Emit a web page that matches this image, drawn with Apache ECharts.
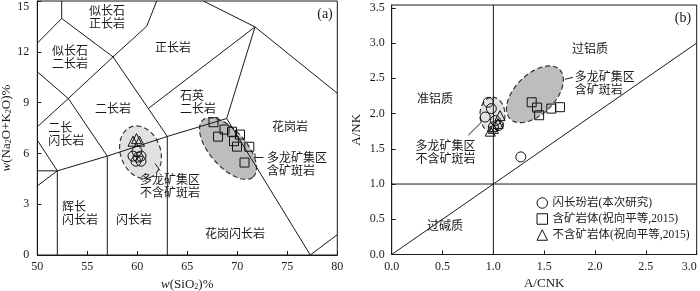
<!DOCTYPE html>
<html><head><meta charset="utf-8">
<script src="https://cdn.jsdelivr.net/npm/echarts@6/dist/echarts.min.js"></script>
<style>html,body{margin:0;padding:0;background:#fff}#c{width:700px;height:291px}</style>
</head><body><div id="c"></div>
<script>
const FONT = '"Liberation Serif","Noto Sans CJK SC",serif';
const TXT = '#1a1a1a';

// ---- panel (a) TAS data ----
const circlesA = [[59.57,5.84],[59.97,6.13],[60.37,5.84],[59.87,5.54],[60.37,5.54],[60.07,5.78]];
const squaresA = [[67.62,7.84],[68.72,7.41],[68.07,6.99],[69.47,7.28],[70.27,7.11],[69.67,6.72],[69.97,6.40],[71.2,6.39],[70.72,5.46]];
const trianglesA = [[59.57,6.72],[59.92,6.87],[60.22,6.72]];
// field boundaries (SiO2, Na2O+K2O)
const boundariesA = [
  [[52.44,15],[52.44,13.97]],
  [[50,12.51],[52.44,13.97],[57.57,11.70],[61.1,8.65],[63,7.0]],
  [[57.57,11.70],[60.94,13.51],[61.94,15]],
  [[61.1,8.65],[71.77,13.47],[80,9.55]],
  [[66.6,15],[71.77,13.47],[68.94,8.06],[77.3,0],[80,1.2]],
  [[50,10.82],[53.1,9.24],[57.57,11.70]],
  [[50,7.57],[53.1,9.24],[57,5.84]],
  [[50,6.78],[52,4.97],[57,5.84],[63,7.0],[68.94,8.06]],
  [[50,4.08],[52,4.97]],
  [[50,4.97],[52,4.97]],
  [[52,4.97],[52,0]],
  [[57,5.84],[57,0]],
  [[63,7.0],[63,0]],
  [[71.77,6.0],[71.77,5.76],[72.6,5.76]],
  [[61.77,5.40],[62.27,5.0]]
];
// ellipses: centre, end of one semi-axis, end of conjugate semi-axis
const ellipseOreA = [69.07,6.29, 71.58,4.61, 70.42,7.0];
const ellipseBarrenA = [60.32,6.07, 61.24,4.57, 62.2,6.47];
const labelsA = [
  ['似长石\n正长岩',56.97,13.96,'center'],
  ['似长石\n二长岩',53.27,11.6,'center'],
  ['正长岩',63.57,12.16,'center'],
  ['石英\n二长岩',64.27,8.97,'left'],
  ['二长岩',57.57,8.55,'center'],
  ['二长\n闪长岩',51.1,7.05,'left'],
  ['花岗岩',75.27,7.49,'center'],
  ['多龙矿集区\n含矿斑岩',72.97,5.29,'left'],
  ['多龙矿集区\n不含矿斑岩',63.27,4.02,'center'],
  ['辉长\n闪长岩',52.47,2.38,'left'],
  ['闪长岩',59.67,2.0,'center'],
  ['花岗闪长岩',69.77,1.21,'center'],
  ['(a)',78.77,14.22,'center']
];

// ---- panel (b) A/CNK - A/NK data ----
const circlesB = [[0.95,2.16],[0.98,2.07],[0.92,1.95],[1.02,1.90],[1.0,1.81],[1.05,1.83],[1.27,1.385]];
const squaresB = [[1.377,2.16],[1.43,2.085],[1.45,1.976],[1.57,2.07],[1.655,2.09]];
const trianglesB = [[0.97,1.75],[1.065,1.97],[1.045,1.86],[1.0,1.79]];
const boundariesB = [
  [[1,0],[1,3.54]],
  [[0,1],[3,1]],
  [[0,0],[3,3]],
  [[1.704,2.486],[1.783,2.514]],
  [[0.753,1.693],[0.885,1.881]]
];
const ellipseOreB = [1.409,2.273, 1.652,2.623, 1.548,2.074];
const ellipseBarrenB = [0.991,1.983, 0.991,2.231, 1.114,1.983];
const labelsB = [
  ['过铝质',1.95,2.90,'center'],
  ['准铝质',0.426,2.19,'center'],
  ['过碱质',0.524,0.39,'center'],
  ['多龙矿集区\n含矿斑岩',1.80,2.415,'left'],
  ['多龙矿集区\n不含矿斑岩',0.53,1.44,'center'],
  ['(b)',2.865,3.35,'center']
];

const names = ['闪长玢岩(本次研究)','含矿岩体(祝向平等,2015)','不含矿岩体(祝向平等,2015)'];

function ellipseSeries(params, fill, gi){
  return {
    type:'custom', xAxisIndex:gi, yAxisIndex:gi, silent:true, z:1,
    data:[params],
    renderItem:function(p, api){
      const c = api.coord([api.value(0),api.value(1)]);
      const m = api.coord([api.value(2),api.value(3)]);
      const n = api.coord([api.value(4),api.value(5)]);
      const pts=[];
      for(let i=0;i<90;i++){const t=i/90*2*Math.PI;
        pts.push([c[0]+(m[0]-c[0])*Math.cos(t)+(n[0]-c[0])*Math.sin(t),
                  c[1]+(m[1]-c[1])*Math.cos(t)+(n[1]-c[1])*Math.sin(t)]);}
      return {type:'polygon', shape:{points:pts},
        style:{fill:fill, stroke:'#333', lineWidth:1.2, lineDash:[5,3]}};
    }
  };
}
function linesSeries(segs, gi){
  return {type:'lines', coordinateSystem:'cartesian2d', xAxisIndex:gi, yAxisIndex:gi,
    polyline:true, silent:true, z:2,
    lineStyle:{color:'#1a1a1a', width:1, opacity:1},
    data:segs.map(s=>({coords:s}))};
}
function labelSeries(labels, gi){
  return {type:'custom', xAxisIndex:gi, yAxisIndex:gi, silent:true, z:5, clip:false,
    data:labels.map(l=>[l[1],l[2]]),
    renderItem:function(p, api){
      const pt = api.coord([api.value(0),api.value(1)]);
      const l = labels[p.dataIndex];
      const isTag = l[0].charAt(0)==='(';
      return {type:'text', x:pt[0], y:pt[1],
        style:{text:l[0], align:l[3], verticalAlign:'middle',
          fontSize:isTag?14:12, fontFamily:FONT, lineHeight:13, fill:TXT}};
    }};
}
function markers(name, data, symbol, size, gi){
  return {type:'scatter', name:name, xAxisIndex:gi, yAxisIndex:gi, z:6,
    symbol:symbol, symbolSize:size, data:data,
    itemStyle:{color:'rgba(255,255,255,0)', borderColor:'#111', borderWidth:1, opacity:1}};
}

const axisCommon = {
  type:'value',
  axisLine:{show:true, onZero:false, lineStyle:{color:'#1a1a1a', width:1}},
  axisTick:{show:true, inside:true, length:4, lineStyle:{color:'#1a1a1a'}},
  splitLine:{show:false},
  nameLocation:'middle',
  nameTextStyle:{color:TXT, fontFamily:FONT, fontSize:13,
    rich:{i:{fontStyle:'italic', fontFamily:FONT, fontSize:13, color:TXT},
          s:{fontFamily:FONT, fontSize:8, color:TXT, verticalAlign:'bottom'}}}
};
function ax(extra, lab){
  return Object.assign({}, axisCommon, extra,
    {axisLabel:Object.assign({color:TXT, fontFamily:FONT, fontSize:12}, lab)});
}

const chart = echarts.init(document.getElementById('c'), null, {renderer:'canvas'});
chart.setOption({
  animation:false,
  backgroundColor:'#fff',
  grid:[
    {left:37.3, top:1, width:300, height:254, show:true, borderColor:'#1a1a1a', borderWidth:1,
     containLabel:false, outerBoundsMode:'none'},
    {left:391.7, top:5, width:305, height:249.5, show:true, borderColor:'#1a1a1a', borderWidth:1,
     containLabel:false, outerBoundsMode:'none'}
  ],
  xAxis:[
    ax({gridIndex:0, min:50, max:80, interval:5, name:'{i|w}(SiO{s|2})%', nameGap:23}, {margin:6}),
    ax({gridIndex:1, min:0, max:3, interval:0.5, name:'A/CNK', nameGap:23},
       {margin:6, alignMaxLabel:'right', formatter:v=>v.toFixed(1)})
  ],
  yAxis:[
    ax({gridIndex:0, min:0, max:15, interval:3, name:'{i|w}(Na{s|2}O+K{s|2}O)%', nameGap:23},
       {margin:8, verticalAlignMaxLabel:'top'}),
    ax({gridIndex:1, min:0, max:3.54, interval:0.5, name:'A/NK', nameGap:29}, {margin:7, showMaxLabel:false,
      formatter:v=>(Math.abs(v/0.5-Math.round(v/0.5))<1e-6? v.toFixed(1):'')})
  ],
  legend:{
    data:names, orient:'vertical', left:536.5, top:196, padding:0,
    itemWidth:10.5, itemHeight:10.5, itemGap:2, itemTextGap:5.5, selectedMode:false,
    itemStyle:{color:'rgba(255,255,255,0)', borderColor:'#111', borderWidth:1},
    textStyle:{color:TXT, fontFamily:FONT, fontSize:11.5, lineHeight:14}
  },
  series:[
    ellipseSeries(ellipseOreA,'#bdbdbd',0),
    ellipseSeries(ellipseBarrenA,'#e2e2e2',0),
    ellipseSeries(ellipseOreB,'#bdbdbd',1),
    ellipseSeries(ellipseBarrenB,'#e2e2e2',1),
    linesSeries(boundariesA,0),
    linesSeries(boundariesB,1),
    labelSeries(labelsA,0),
    labelSeries(labelsB,1),
    markers(names[0], circlesA, 'circle', 10, 0),
    markers(names[1], squaresA, 'rect', 9, 0),
    markers(names[2], trianglesA, 'triangle', 10, 0),
    markers(names[0], circlesB, 'circle', 10, 1),
    markers(names[1], squaresB, 'rect', 9, 1),
    markers(names[2], trianglesB, 'triangle', 10, 1)
  ]
});
</script></body></html>
